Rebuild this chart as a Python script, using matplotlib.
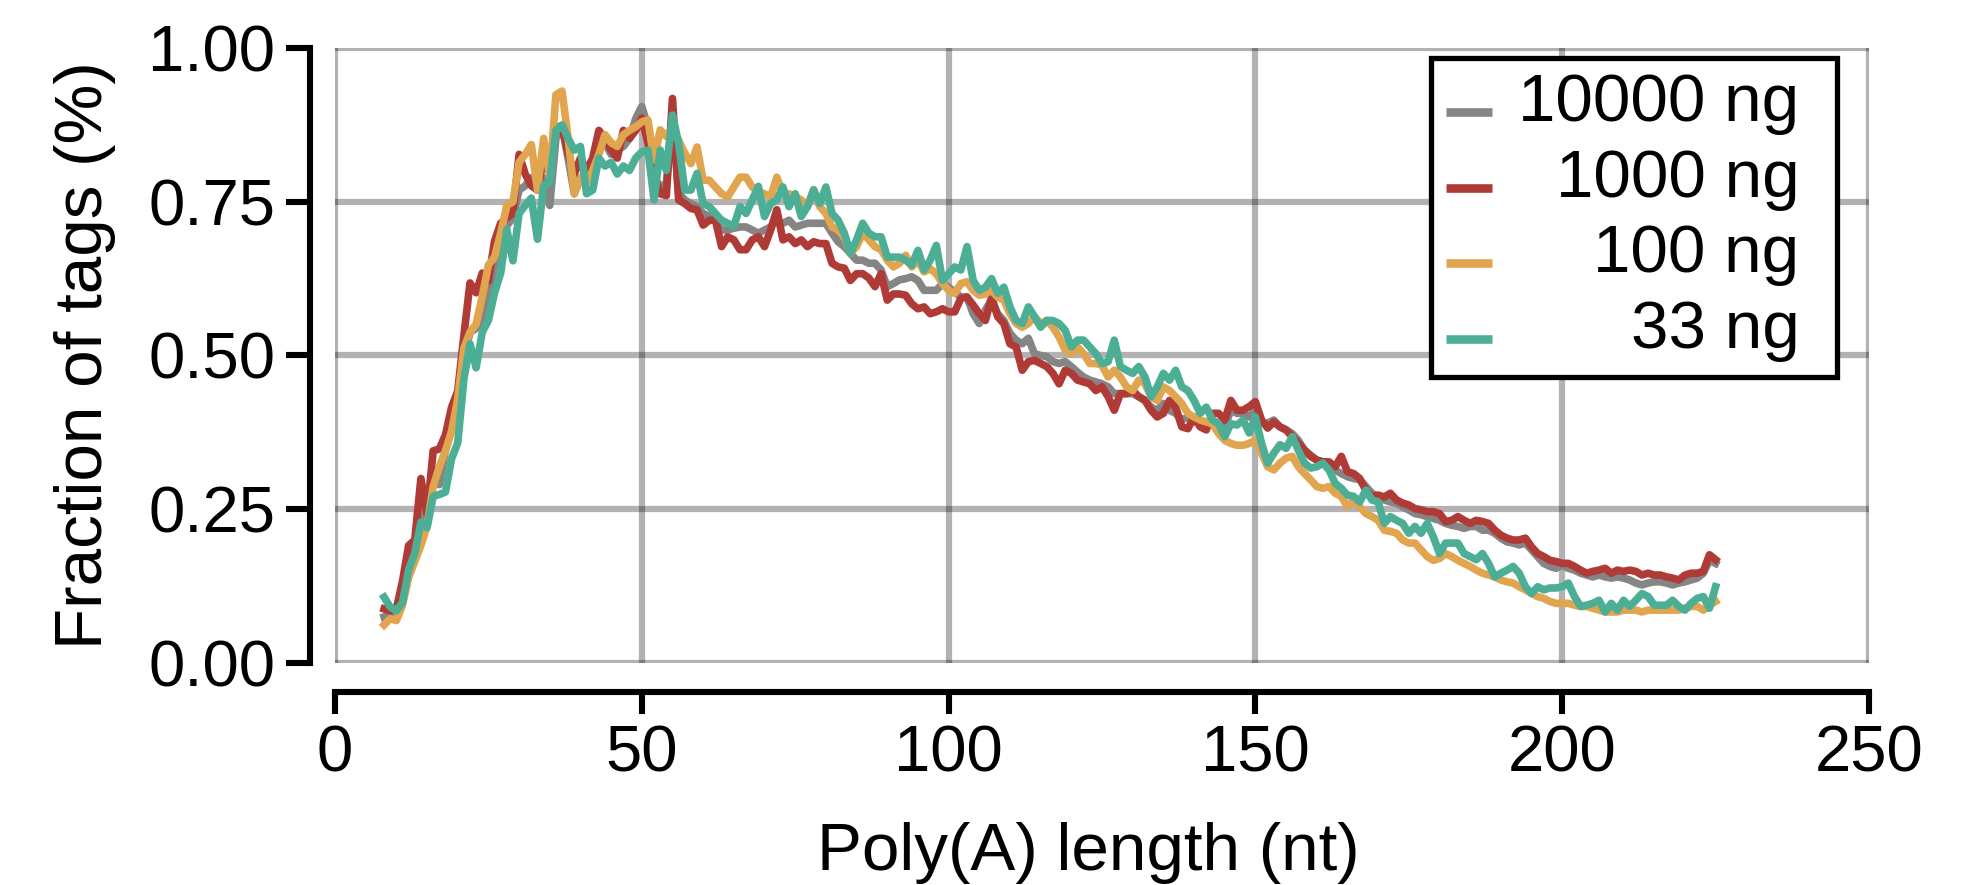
import matplotlib
matplotlib.use("Agg")
import matplotlib.pyplot as plt
from matplotlib.patches import Rectangle
from matplotlib.transforms import IdentityTransform

# ---------------- data ----------------
lengths = list(range(8, 226))  # Poly(A) length, nt

ng10000 = [
    0.075, 0.078, 0.082, 0.114, 0.165, 0.184, 0.223, 0.274, 0.294, 0.290,
    0.345, 0.384, 0.416, 0.493, 0.538, 0.544, 0.557, 0.596, 0.647, 0.673,
    0.711, 0.724, 0.769, 0.776, 0.789, 0.769, 0.789, 0.744, 0.853, 0.872,
    0.820, 0.763, 0.789, 0.795, 0.814, 0.834, 0.846, 0.827, 0.834, 0.840,
    0.853, 0.885, 0.905, 0.872, 0.790, 0.774, 0.780, 0.883, 0.764, 0.753,
    0.747, 0.742, 0.731, 0.726, 0.720, 0.704, 0.704, 0.707, 0.709, 0.709,
    0.704, 0.699, 0.704, 0.709, 0.720, 0.715, 0.720, 0.709, 0.712, 0.715,
    0.715, 0.715, 0.715, 0.699, 0.685, 0.677, 0.666, 0.655, 0.655, 0.650,
    0.650, 0.639, 0.612, 0.617, 0.623, 0.625, 0.628, 0.622, 0.606, 0.606,
    0.606, 0.617, 0.611, 0.603, 0.595, 0.595, 0.568, 0.552, 0.574, 0.590,
    0.568, 0.557, 0.536, 0.525, 0.519, 0.528, 0.503, 0.500, 0.498, 0.490,
    0.487, 0.490, 0.482, 0.473, 0.465, 0.460, 0.457, 0.454, 0.449, 0.438,
    0.438, 0.438, 0.438, 0.433, 0.427, 0.416, 0.411, 0.422, 0.411, 0.406,
    0.395, 0.400, 0.392, 0.392, 0.392, 0.392, 0.389, 0.384, 0.411, 0.406,
    0.406, 0.400, 0.411, 0.390, 0.390, 0.395, 0.384, 0.379, 0.373, 0.362,
    0.346, 0.338, 0.330, 0.327, 0.325, 0.314, 0.308, 0.303, 0.300, 0.298,
    0.287, 0.276, 0.270, 0.265, 0.262, 0.260, 0.254, 0.249, 0.243, 0.241,
    0.238, 0.235, 0.232, 0.227, 0.224, 0.222, 0.219, 0.222, 0.222, 0.216,
    0.216, 0.211, 0.203, 0.197, 0.195, 0.192, 0.195, 0.184, 0.173, 0.162,
    0.157, 0.154, 0.159, 0.154, 0.151, 0.146, 0.143, 0.140, 0.143, 0.140,
    0.138, 0.140, 0.138, 0.135, 0.130, 0.127, 0.130, 0.132, 0.132, 0.130,
    0.127, 0.130, 0.132, 0.135, 0.138, 0.146, 0.167, 0.162,
]

ng1000 = [
    0.088, 0.085, 0.088, 0.133, 0.191, 0.200, 0.300, 0.242, 0.345, 0.348,
    0.371, 0.416, 0.442, 0.532, 0.618, 0.602, 0.634, 0.621, 0.686, 0.715,
    0.724, 0.731, 0.827, 0.795, 0.776, 0.769, 0.821, 0.808, 0.872, 0.872,
    0.827, 0.795, 0.821, 0.801, 0.821, 0.866, 0.853, 0.834, 0.821, 0.866,
    0.853, 0.866, 0.886, 0.845, 0.796, 0.763, 0.760, 0.918, 0.753, 0.747,
    0.739, 0.737, 0.712, 0.720, 0.720, 0.677, 0.693, 0.688, 0.672, 0.672,
    0.688, 0.693, 0.677, 0.704, 0.737, 0.688, 0.693, 0.682, 0.688, 0.677,
    0.685, 0.682, 0.682, 0.650, 0.644, 0.642, 0.622, 0.633, 0.633, 0.626,
    0.612, 0.633, 0.590, 0.600, 0.600, 0.598, 0.584, 0.576, 0.579, 0.568,
    0.571, 0.576, 0.571, 0.571, 0.593, 0.595, 0.582, 0.568, 0.557, 0.595,
    0.563, 0.552, 0.519, 0.514, 0.476, 0.490, 0.492, 0.487, 0.482, 0.471,
    0.454, 0.476, 0.471, 0.460, 0.457, 0.454, 0.443, 0.449, 0.433, 0.411,
    0.438, 0.438, 0.443, 0.433, 0.427, 0.411, 0.400, 0.406, 0.427, 0.416,
    0.384, 0.381, 0.400, 0.384, 0.379, 0.406, 0.406, 0.395, 0.427, 0.411,
    0.411, 0.417, 0.425, 0.395, 0.382, 0.392, 0.384, 0.379, 0.368, 0.357,
    0.346, 0.336, 0.330, 0.327, 0.327, 0.319, 0.336, 0.311, 0.308, 0.300,
    0.281, 0.270, 0.273, 0.270, 0.276, 0.265, 0.260, 0.257, 0.251, 0.249,
    0.246, 0.246, 0.243, 0.230, 0.232, 0.238, 0.232, 0.227, 0.232, 0.230,
    0.227, 0.216, 0.208, 0.203, 0.200, 0.200, 0.203, 0.189, 0.178, 0.173,
    0.167, 0.165, 0.162, 0.162, 0.157, 0.151, 0.146, 0.149, 0.151, 0.154,
    0.146, 0.151, 0.149, 0.151, 0.149, 0.143, 0.146, 0.143, 0.143, 0.140,
    0.138, 0.135, 0.143, 0.146, 0.146, 0.149, 0.176, 0.168,
]

ng100 = [
    0.062, 0.072, 0.069, 0.094, 0.139, 0.165, 0.191, 0.223, 0.287, 0.319,
    0.345, 0.377, 0.429, 0.512, 0.538, 0.551, 0.596, 0.647, 0.660, 0.699,
    0.744, 0.750, 0.814, 0.827, 0.843, 0.769, 0.853, 0.789, 0.924, 0.930,
    0.853, 0.763, 0.789, 0.782, 0.801, 0.827, 0.859, 0.846, 0.840, 0.859,
    0.866, 0.872, 0.880, 0.883, 0.818, 0.867, 0.856, 0.872, 0.850, 0.829,
    0.812, 0.839, 0.785, 0.785, 0.774, 0.763, 0.758, 0.774, 0.790, 0.790,
    0.774, 0.766, 0.763, 0.758, 0.790, 0.763, 0.763, 0.758, 0.753, 0.742,
    0.770, 0.742, 0.731, 0.709, 0.704, 0.693, 0.666, 0.677, 0.699, 0.688,
    0.677, 0.672, 0.655, 0.644, 0.650, 0.663, 0.644, 0.655, 0.636, 0.641,
    0.633, 0.617, 0.606, 0.601, 0.617, 0.620, 0.606, 0.598, 0.600, 0.606,
    0.595, 0.590, 0.568, 0.552, 0.546, 0.552, 0.563, 0.552, 0.557, 0.546,
    0.530, 0.509, 0.503, 0.514, 0.503, 0.487, 0.487, 0.484, 0.465, 0.476,
    0.465, 0.449, 0.443, 0.460, 0.454, 0.433, 0.427, 0.449, 0.443, 0.433,
    0.422, 0.406, 0.400, 0.395, 0.392, 0.389, 0.373, 0.362, 0.357, 0.354,
    0.354, 0.357, 0.363, 0.341, 0.319, 0.314, 0.325, 0.333, 0.336, 0.319,
    0.308, 0.298, 0.287, 0.284, 0.287, 0.276, 0.271, 0.254, 0.265, 0.254,
    0.243, 0.238, 0.232, 0.216, 0.214, 0.211, 0.200, 0.195, 0.195, 0.184,
    0.173, 0.167, 0.170, 0.178, 0.173, 0.167, 0.162, 0.157, 0.151, 0.146,
    0.143, 0.140, 0.135, 0.132, 0.130, 0.124, 0.119, 0.113, 0.108, 0.105,
    0.100, 0.097, 0.097, 0.097, 0.094, 0.092, 0.092, 0.089, 0.086, 0.083,
    0.083, 0.083, 0.086, 0.086, 0.086, 0.083, 0.086, 0.086, 0.086, 0.086,
    0.086, 0.086, 0.089, 0.092, 0.092, 0.086, 0.094, 0.100,
]

ng33 = [
    0.107, 0.091, 0.085, 0.098, 0.152, 0.178, 0.229, 0.220, 0.271, 0.274,
    0.278, 0.332, 0.358, 0.461, 0.519, 0.480, 0.538, 0.557, 0.602, 0.634,
    0.705, 0.654, 0.731, 0.744, 0.756, 0.689, 0.776, 0.782, 0.866, 0.875,
    0.853, 0.834, 0.840, 0.763, 0.769, 0.821, 0.808, 0.814, 0.795, 0.808,
    0.801, 0.821, 0.831, 0.834, 0.753, 0.834, 0.801, 0.891, 0.845, 0.769,
    0.769, 0.796, 0.747, 0.742, 0.731, 0.720, 0.715, 0.710, 0.742, 0.731,
    0.753, 0.775, 0.726, 0.747, 0.753, 0.774, 0.742, 0.763, 0.726, 0.742,
    0.769, 0.747, 0.774, 0.731, 0.720, 0.699, 0.666, 0.688, 0.715, 0.699,
    0.693, 0.693, 0.660, 0.660, 0.660, 0.655, 0.647, 0.671, 0.639, 0.655,
    0.679, 0.622, 0.633, 0.644, 0.639, 0.677, 0.622, 0.606, 0.611, 0.625,
    0.601, 0.611, 0.579, 0.557, 0.552, 0.579, 0.563, 0.546, 0.557, 0.557,
    0.552, 0.541, 0.514, 0.525, 0.525, 0.514, 0.503, 0.487, 0.490, 0.525,
    0.482, 0.476, 0.471, 0.482, 0.465, 0.433, 0.449, 0.471, 0.460, 0.476,
    0.449, 0.443, 0.427, 0.406, 0.416, 0.395, 0.389, 0.368, 0.389, 0.387,
    0.395, 0.374, 0.400, 0.357, 0.325, 0.341, 0.355, 0.349, 0.368, 0.346,
    0.325, 0.317, 0.319, 0.325, 0.314, 0.292, 0.284, 0.273, 0.271, 0.262,
    0.281, 0.265, 0.262, 0.227, 0.238, 0.232, 0.227, 0.211, 0.222, 0.211,
    0.227, 0.205, 0.178, 0.195, 0.195, 0.195, 0.178, 0.173, 0.168, 0.178,
    0.162, 0.140, 0.146, 0.151, 0.157, 0.146, 0.124, 0.113, 0.124, 0.119,
    0.122, 0.122, 0.124, 0.130, 0.108, 0.092, 0.094, 0.097, 0.102, 0.083,
    0.097, 0.086, 0.102, 0.092, 0.102, 0.113, 0.108, 0.094, 0.094, 0.094,
    0.102, 0.092, 0.086, 0.097, 0.105, 0.108, 0.089, 0.124,
]

series_labels = ["10000 ng", "1000 ng", "100 ng", "33 ng"]
series_colors = ["#858585", "#b03a36", "#e2a54f", "#4caf95"]
x_ticks = [0, 50, 100, 150, 200, 250]
y_ticks = [0.00, 0.25, 0.50, 0.75, 1.00]
x_label = "Poly(A) length (nt)"
y_label = "Fraction of tags (%)"

for s in (ng10000, ng1000, ng100, ng33):
    assert len(s) == len(lengths)

# ---------------- figure ----------------
plt.rcParams["font.family"] = ["Liberation Sans", "DejaVu Sans"]
FS = 48.5      # axis labels / legend
TFS = 47       # tick labels

W, H = 1983, 885
fig = plt.figure(figsize=(W / 100, H / 100), dpi=100)
ax = fig.add_axes([335 / W, 1 - 663 / H, 1534 / W, 615 / H])

for vals, lab, col in zip((ng10000, ng1000, ng100, ng33), series_labels, series_colors):
    ax.plot(lengths, vals, color=col, lw=5.5, label=lab, solid_joinstyle="round")

ax.set_xlim(0, 250)
ax.set_ylim(0, 1)
ax.set_xticks(x_ticks)
ax.set_xticklabels([str(t) for t in x_ticks])
ax.set_yticks(y_ticks)
ax.set_yticklabels([f"{t:.2f}" for t in y_ticks])

ax.set_axisbelow(True)
ax.grid(True, color="black", alpha=0.3, lw=4.5)

for side in ("top", "right"):
    ax.spines[side].set_visible(False)
ax.spines["left"].set_position(("outward", 18))
ax.spines["bottom"].set_position(("outward", 21))
for side in ("left", "bottom"):
    ax.spines[side].set_linewidth(4.4)
ax.tick_params(axis="both", direction="out", width=4.4,
               labelsize=TFS, pad=8, colors="black")
ax.tick_params(axis="y", length=17)
ax.tick_params(axis="x", length=15.5)

fig.text(102 / W, 1 - 355.5 / H, y_label, rotation=90, rotation_mode="anchor",
         ha="center", va="baseline", fontsize=FS)
fig.text(1088 / W, 1 - 870 / H, x_label, ha="center", va="baseline",
         fontsize=FS)

leg = ax.legend(loc="upper right", bbox_to_anchor=(1815 / W, 1 - 58 / H),
                bbox_transform=fig.transFigure, fontsize=FS, frameon=False,
                handlelength=0.68, handletextpad=0.39, labelspacing=0.2,
                borderpad=0.23, borderaxespad=0)
for hl in leg.get_lines():
    hl.set_linewidth(6.2)
    hl.set_solid_capstyle("butt")
    # handles sit a little below the middle of the label
    hl.set_ydata([y - 10.5 for y in hl.get_ydata()])

# right-align the legend labels
fig.canvas.draw()
renderer = fig.canvas.get_renderer()
texts = leg.get_texts()
widths = [t.get_window_extent(renderer).width for t in texts]
maxw = max(widths)
for t, w in zip(texts, widths):
    t.set_position((maxw - w, 0))

# legend frame (square, black), slightly wider padding on the right
fig.canvas.draw()
bb = leg.get_window_extent(renderer)
fs_px = FS * fig.dpi / 72.0
extra = 0.32 * fs_px
frame = Rectangle((bb.x0, bb.y0), bb.width + extra, bb.height,
                  transform=IdentityTransform(), facecolor="white",
                  edgecolor="black", lw=3.8, zorder=4.9, clip_on=False)
ax.add_artist(frame)

fig.savefig("out.png", dpi=100)
